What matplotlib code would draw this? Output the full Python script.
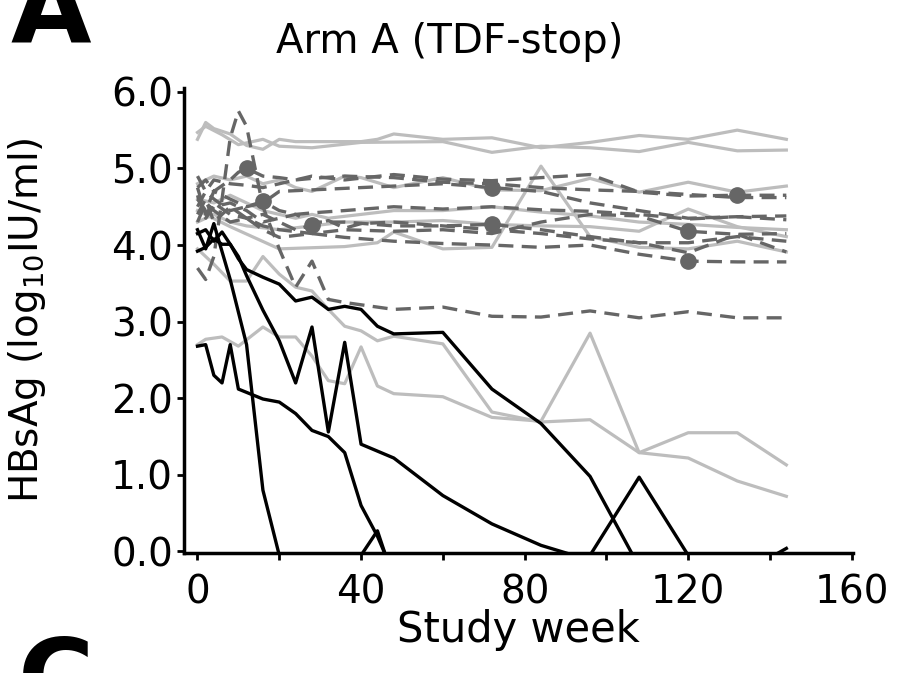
import matplotlib
matplotlib.use("Agg")
import matplotlib.pyplot as plt

# ---------------- data (weeks, log10 HBsAg) ----------------
# light grey solid lines
g1_wk = [0, 2, 4, 8, 12, 16, 20, 24, 40, 44, 48, 60, 72, 84, 96, 108, 120, 132, 144]
g1 = [5.38, 5.6, 5.52, 5.45, 5.3, 5.25, 5.38, 5.35, 5.35, 5.38, 5.45, 5.38, 5.4, 5.27, 5.34, 5.43, 5.38, 5.5, 5.38]
g2_wk = [0, 2, 6, 10, 16, 20, 28, 40, 60, 72, 84, 96, 108, 120, 132, 144]
g2 = [5.47, 5.55, 5.44, 5.31, 5.38, 5.29, 5.27, 5.34, 5.35, 5.21, 5.29, 5.27, 5.22, 5.34, 5.23, 5.24]
g3_wk = [0, 4, 8, 12, 16, 20, 24, 28, 36, 40, 48, 60, 72, 84, 96, 108, 120, 132, 144]
g3 = [4.8, 4.9, 4.85, 4.9, 4.8, 4.85, 4.75, 4.7, 4.9, 4.88, 4.75, 4.88, 4.72, 4.71, 4.87, 4.69, 4.82, 4.69, 4.77]
g4_wk = [0, 4, 8, 12, 16, 20, 24, 28, 32, 40, 48, 60, 72, 84, 96, 108, 120, 132, 144]
g4 = [4.6, 4.55, 4.65, 4.55, 4.45, 4.4, 4.35, 4.4, 4.35, 4.4, 4.45, 4.45, 4.5, 4.43, 4.38, 4.3, 4.27, 4.23, 4.2]
g5_wk = [0, 8, 20, 36, 44, 48, 60, 72, 84, 96, 108, 120, 132, 144]
g5 = [4.45, 4.24, 3.95, 3.98, 4.03, 4.17, 3.95, 3.97, 5.03, 4.11, 3.97, 3.95, 4.05, 3.91]
g6_wk = [0, 4, 8, 12, 20, 28, 36, 48, 60, 72, 84, 96, 108, 120, 132, 144]
g6 = [4.3, 4.4, 4.3, 4.25, 4.2, 4.25, 4.3, 4.3, 4.32, 4.27, 4.25, 4.24, 4.18, 4.47, 4.24, 4.11]
g7_wk = [0, 4, 8, 12, 16, 20, 24, 28, 32, 36, 40, 44, 48, 60, 72, 84, 96, 108, 120, 132, 144]
g7 = [3.95, 3.75, 3.53, 3.53, 3.85, 3.62, 3.45, 3.4, 3.16, 2.94, 2.88, 2.75, 2.81, 2.71, 1.82, 1.69, 1.72, 1.29, 1.22, 0.92, 0.72]
g8_wk = [0, 2, 6, 10, 16, 20, 24, 28, 32, 36, 40, 44, 48, 60, 72, 84, 96, 108, 120, 132, 144]
g8 = [2.7, 2.77, 2.8, 2.68, 2.93, 2.8, 2.8, 2.55, 2.23, 2.19, 2.67, 2.16, 2.06, 2.02, 1.75, 1.7, 2.85, 1.29, 1.55, 1.55, 1.13]

# dark grey dashed lines (dot = week of the filled circle, None = no circle)
d1_wk = [0, 2, 4, 8, 10, 12, 16, 20, 24, 28, 36, 48, 60, 72, 84, 96, 108, 120, 132, 144]
d1 = [4.75, 4.85, 4.7, 4.85, 4.95, 5.0, 4.9, 4.88, 4.85, 4.87, 4.9, 4.88, 4.82, 4.8, 4.75, 4.72, 4.7, 4.66, 4.62, 4.62]
d1_dot = 12
d2_wk = [0, 2, 4, 8, 12, 16, 20, 28, 36, 48, 60, 72, 84, 96, 108, 120, 132, 144]
d2 = [4.9, 4.7, 4.85, 4.8, 4.78, 4.75, 4.8, 4.9, 4.85, 4.92, 4.86, 4.84, 4.88, 4.92, 4.69, 4.64, 4.65, 4.65]
d2_dot = 132
d3_wk = [0, 2, 4, 8, 12, 16, 20, 28, 40, 48, 60, 72, 84, 96, 108, 120, 132, 144]
d3 = [4.6, 4.45, 4.7, 4.6, 4.5, 4.55, 4.7, 4.72, 4.75, 4.77, 4.8, 4.75, 4.7, 4.55, 4.45, 4.35, 4.37, 4.38]
d3_dot = 72
d4_wk = [0, 2, 4, 8, 12, 16, 20, 24, 28, 36, 48, 60, 72, 84, 96, 108, 120, 132, 144]
d4 = [4.5, 4.7, 4.6, 4.45, 4.5, 4.57, 4.45, 4.4, 4.42, 4.45, 4.5, 4.47, 4.5, 4.46, 4.44, 4.4, 4.34, 4.37, 4.33]
d4_dot = 16
d5_wk = [0, 2, 4, 8, 12, 16, 20, 24, 28, 32, 36, 40, 48, 60, 72, 84, 96, 108, 120, 132, 144]
d5 = [4.75, 4.4, 4.55, 4.4, 4.35, 4.4, 4.3, 4.2, 4.26, 4.32, 4.22, 4.28, 4.3, 4.25, 4.2, 4.15, 4.08, 4.03, 3.9, 4.14, 3.91]
d5_dot = 28
d6_wk = [0, 2, 4, 8, 12, 16, 20, 24, 28, 36, 48, 60, 72, 84, 96, 108, 120, 132, 144]
d6 = [4.65, 4.35, 4.5, 4.55, 4.45, 4.3, 4.35, 4.4, 4.3, 4.3, 4.25, 4.25, 4.27, 4.2, 4.11, 4.03, 4.03, 4.11, 4.05]
d6_dot = 72
d7_wk = [0, 2, 4, 8, 12, 16, 20, 28, 36, 48, 60, 72, 84, 96, 108, 120, 132, 144]
d7 = [4.4, 4.6, 4.3, 4.5, 4.35, 4.25, 4.2, 4.15, 4.2, 4.18, 4.2, 4.15, 4.3, 4.4, 4.38, 4.18, 4.14, 4.15]
d7_dot = 120
d8_wk = [0, 2, 4, 6, 8, 10, 12, 16, 20, 24, 28, 32, 36, 48, 60, 72, 84, 96, 108, 120, 132, 144]
d8 = [3.7, 3.55, 3.85, 4.6, 5.4, 5.75, 5.55, 4.5, 3.95, 3.45, 3.79, 3.29, 3.25, 3.16, 3.19, 3.07, 3.06, 3.14, 3.05, 3.13, 3.05, 3.05]
d8_dot = None
d9_wk = [0, 2, 4, 8, 12, 16, 20, 28, 36, 48, 60, 72, 84, 96, 108, 120, 132, 144]
d9 = [4.3, 4.55, 4.45, 4.3, 4.35, 4.2, 4.1, 4.15, 4.1, 4.05, 4.02, 4.0, 3.97, 4.0, 3.88, 3.79, 3.78, 3.78]
d9_dot = 120

# black solid lines
b1_wk = [0, 2, 4, 8, 12, 16, 20, 40, 44, 46]
b1 = [4.2, 3.95, 4.28, 3.55, 2.7, 0.8, -0.05, -0.05, 0.27, -0.05]
b2_wk = [0, 2, 4, 6, 8, 10, 12, 16, 20, 24, 28, 32, 36, 40, 44, 48, 60, 72, 84, 96, 108]
b2 = [3.92, 3.97, 4.08, 4.01, 4.01, 3.82, 3.68, 3.58, 3.49, 3.27, 3.32, 3.16, 3.2, 3.16, 2.94, 2.84, 2.86, 2.12, 1.67, 0.98, -0.2]
b3_wk = [0, 2, 4, 6, 10, 12, 16, 20, 24, 28, 32, 36, 40, 48, 60, 72, 84, 92, 96, 108, 120, 141, 144]
b3 = [4.15, 4.2, 4.05, 4.17, 3.85, 3.6, 3.15, 2.75, 2.2, 2.93, 1.56, 2.73, 1.4, 1.22, 0.73, 0.36, 0.08, -0.05, -0.05, 0.97, -0.05, -0.05, 0.04]
b4_wk = [0, 2, 4, 6, 8, 10, 16, 20, 24, 28, 32, 36, 40, 44, 46]
b4 = [2.68, 2.7, 2.3, 2.2, 2.7, 2.12, 1.99, 1.95, 1.8, 1.58, 1.5, 1.29, 0.6, 0.2, -0.05]

grey_lines = [(g1_wk, g1), (g2_wk, g2), (g3_wk, g3), (g4_wk, g4),
              (g5_wk, g5), (g6_wk, g6), (g7_wk, g7), (g8_wk, g8)]
dashed_lines = [(d1_wk, d1, d1_dot), (d2_wk, d2, d2_dot), (d3_wk, d3, d3_dot),
                (d4_wk, d4, d4_dot), (d5_wk, d5, d5_dot), (d6_wk, d6, d6_dot),
                (d7_wk, d7, d7_dot), (d8_wk, d8, d8_dot), (d9_wk, d9, d9_dot)]
black_lines = [(b1_wk, b1), (b2_wk, b2), (b3_wk, b3), (b4_wk, b4)]

x_ticks = [0, 20, 40, 60, 80, 100, 120, 140, 160]
x_ticklabels = ["0", "", "40", "", "80", "", "120", "", "160"]
y_ticks = [0, 1, 2, 3, 4, 5, 6]

plt.rcParams["font.family"] = ["DejaVu Sans"]

fig = plt.figure(figsize=(8.99, 6.73), dpi=100)
ax = fig.add_axes([184 / 899, 120 / 673, (853 - 184) / 899, (553 - 88) / 673])

for wk, vals in grey_lines:
    ax.plot(wk, vals, color="#bdbdbd", lw=2.3, zorder=2)

for wk, vals, dot in dashed_lines:
    ax.plot(wk, vals, color="#666666", lw=2.4, linestyle=(0, (4.5, 2.5)), zorder=3)
    if dot is not None:
        ax.plot(dot, vals[wk.index(dot)], "o", color="#666666", ms=11, zorder=3)

for wk, vals in black_lines:
    ax.plot(wk, vals, color="black", lw=2.4, zorder=4)

ax.set_xlim(-3.3, 160.3)
ax.set_ylim(-0.02, 6.05)
ax.set_xticks(x_ticks)
ax.set_xticklabels(x_ticklabels)
ax.set_yticks(y_ticks)
ax.set_yticklabels(["%.1f" % v for v in y_ticks])

for side in ["top", "right"]:
    ax.spines[side].set_visible(False)
for side in ["left", "bottom"]:
    ax.spines[side].set_linewidth(2.5)
ax.tick_params(axis="both", length=5, width=2, labelsize=28)
ax.tick_params(axis="x", pad=10)
ax.tick_params(axis="y", pad=3)

ax.set_xlabel("Study week", fontsize=30, labelpad=-2)
ax.set_ylabel(r"HBsAg (log$_{10}$IU/ml)", fontsize=28)
ax.yaxis.set_label_coords(-0.203, 0.5)

fig.text(0.5, 0.921, "Arm A (TDF-stop)", fontsize=29, ha="center", va="baseline")
fig.text(0.012, 0.935, "A", fontsize=75, fontweight="bold", ha="left", va="baseline")
fig.text(0.02, 0.058, "C", fontsize=75, fontweight="bold", ha="left", va="top")

fig.savefig("out.png", dpi=100)
